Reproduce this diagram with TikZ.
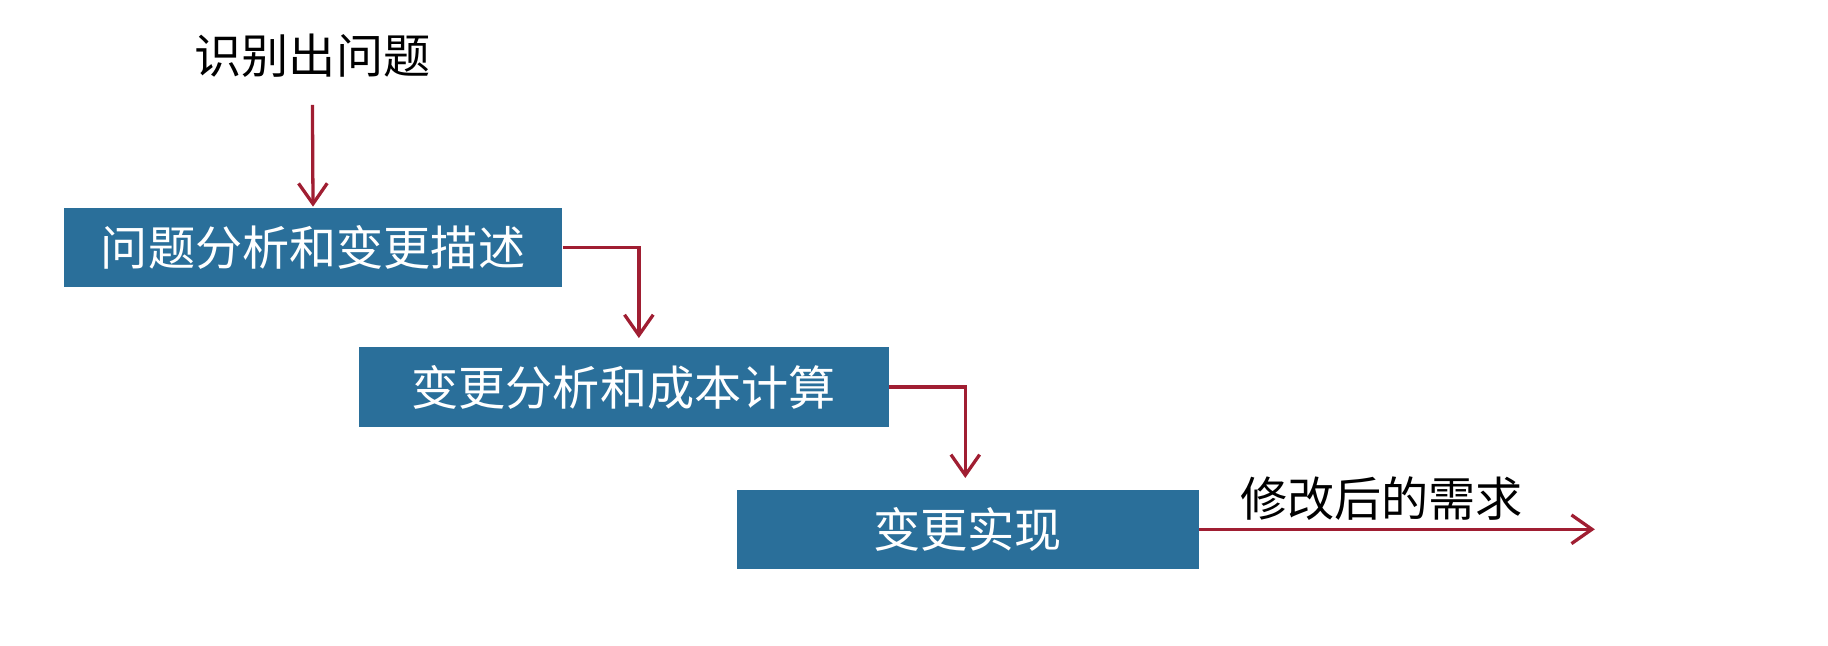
\documentclass[tikz,border=0pt]{standalone}
\usepackage{fontspec}
\newfontfamily\cjk{Noto Sans CJK SC}
\usetikzlibrary{arrows.meta,positioning}
\definecolor{boxblue}{HTML}{2A6F9A}
\definecolor{arrred}{HTML}{A01E32}

\begin{document}
\begin{tikzpicture}
    [x=0.01cm,y=-0.01cm,
    stage/.style={
      rectangle,
      minimum height=0.68cm,
      inner sep=0cm,
      fill=boxblue,text=white,
      font=\cjk\fontsize{11.5}{13}\selectfont
      },
    lbl/.style={font=\cjk\fontsize{11.5}{13}\selectfont},
    flow/.style={-{Straight Barb[length=5pt,width=7pt]}, color=arrred, thick}]

    \useasboundingbox (0,0) rectangle (1568,554);

    \node (start)[lbl] at (268,48) {识别出问题};
    \node (s1)[stage, minimum width=4.27cm] at (268.5,212) {问题分析和变更描述};
    \node (s2)[stage, minimum width=4.54cm] at (535,332) {变更分析和成本计算};
    \node (s3)[stage, minimum width=3.96cm] at (830,454) {变更实现};
    \coordinate (top) at (268,90);
    \coordinate (d1) at (548,290);
    \coordinate (d2) at (828,410);
    \coordinate (out) at (1368,454);
    \node (res)[lbl] at (1185,428) {修改后的需求};

    \draw[flow] (top) -- (s1.north);
    \draw[flow] (s1.east) -| (d1);
    \draw[flow] (s2.east) -| (d2);
    \draw[flow] (s3.east) -- (out);

  \end{tikzpicture}
\end{document}
